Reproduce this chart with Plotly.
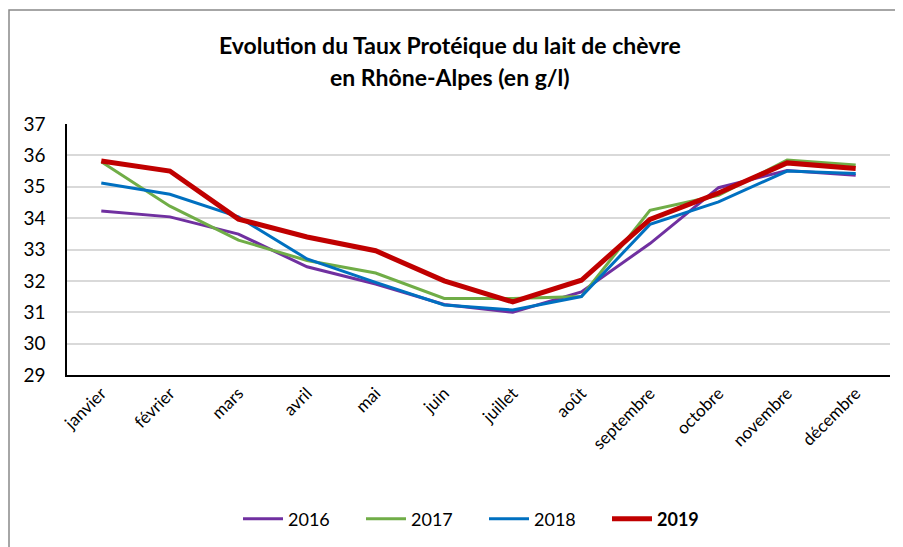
import plotly.graph_objects as go

months = ["janvier", "février", "mars", "avril", "mai", "juin", "juillet",
          "août", "septembre", "octobre", "novembre", "décembre"]
y2016 = [34.23, 34.04, 33.49, 32.45, 31.90, 31.25, 31.00, 31.65, 33.19, 34.97, 35.52, 35.37]
y2017 = [35.80, 34.38, 33.30, 32.65, 32.25, 31.44, 31.44, 31.50, 34.25, 34.73, 35.85, 35.69]
y2018 = [35.12, 34.76, 34.04, 32.70, 31.95, 31.23, 31.07, 31.50, 33.80, 34.52, 35.50, 35.42]
y2019 = [35.82, 35.50, 33.97, 33.40, 32.96, 32.00, 31.33, 32.02, 33.96, 34.80, 35.76, 35.58]

series = [
    ("2016", y2016, "#7030a0", 3),
    ("2017", y2017, "#70ad47", 3),
    ("2018", y2018, "#0070c0", 3),
    ("<b>2019</b>", y2019, "#c00000", 5),
]

FONT = "Lato"
OFF = 8  # page body margin
W, H = 903 - OFF, 547 - OFF
L, R, T, B = 67 - OFF, 13, 124 - OFF, 172
pw, ph = W - L - R, H - T - B

def px_x(p):
    return (p - OFF - L) / pw

def px_y(p):
    return (H - B - (p - OFF)) / ph

fig = go.Figure()
for name, ys, col, w in series:
    fig.add_trace(go.Scatter(x=months, y=ys, name=name, mode="lines",
                             line=dict(color=col, width=w)))

fig.update_layout(
    width=W, height=H,
    margin=dict(l=L, r=R, t=T, b=B, autoexpand=False),
    paper_bgcolor="white", plot_bgcolor="white",
    font=dict(family=FONT, size=16, color="#000"),
    showlegend=True,
    legend=dict(orientation="h", x=px_x(484), xanchor="center",
                y=px_y(519), yanchor="middle", font=dict(size=18),
                itemwidth=40, entrywidth=68, tracegroupgap=0),
    xaxis=dict(type="category", range=[-0.5, 11.5], tickangle=-45,
               showgrid=False, showline=True, linecolor="#000", linewidth=1.5,
               ticks="", tickfont=dict(size=17)),
    yaxis=dict(range=[29, 37], dtick=1, showgrid=True, gridcolor="#d9d9d9",
               gridwidth=1.5, showline=True, linecolor="#000", linewidth=1.5,
               ticks="", ticklabelstandoff=16, tickfont=dict(size=19),
               zeroline=False),
    annotations=[
        dict(text="<b>Evolution du Taux Protéique du lait de chèvre</b>",
             xref="paper", yref="paper", x=px_x(450), y=px_y(45),
             xanchor="center", yanchor="middle", showarrow=False,
             font=dict(size=23, family=FONT)),
        dict(text="<b>en Rhône-Alpes (en g/l)</b>",
             xref="paper", yref="paper", x=px_x(450), y=px_y(77),
             xanchor="center", yanchor="middle", showarrow=False,
             font=dict(size=23, family=FONT)),
    ],
    shapes=[dict(type="rect", xref="paper", yref="paper",
                 x0=px_x(9), x1=px_x(920), y0=px_y(570), y1=px_y(10),
                 line=dict(color="#898989", width=1.5), layer="below")],
)

fig.write_html("out.html")
